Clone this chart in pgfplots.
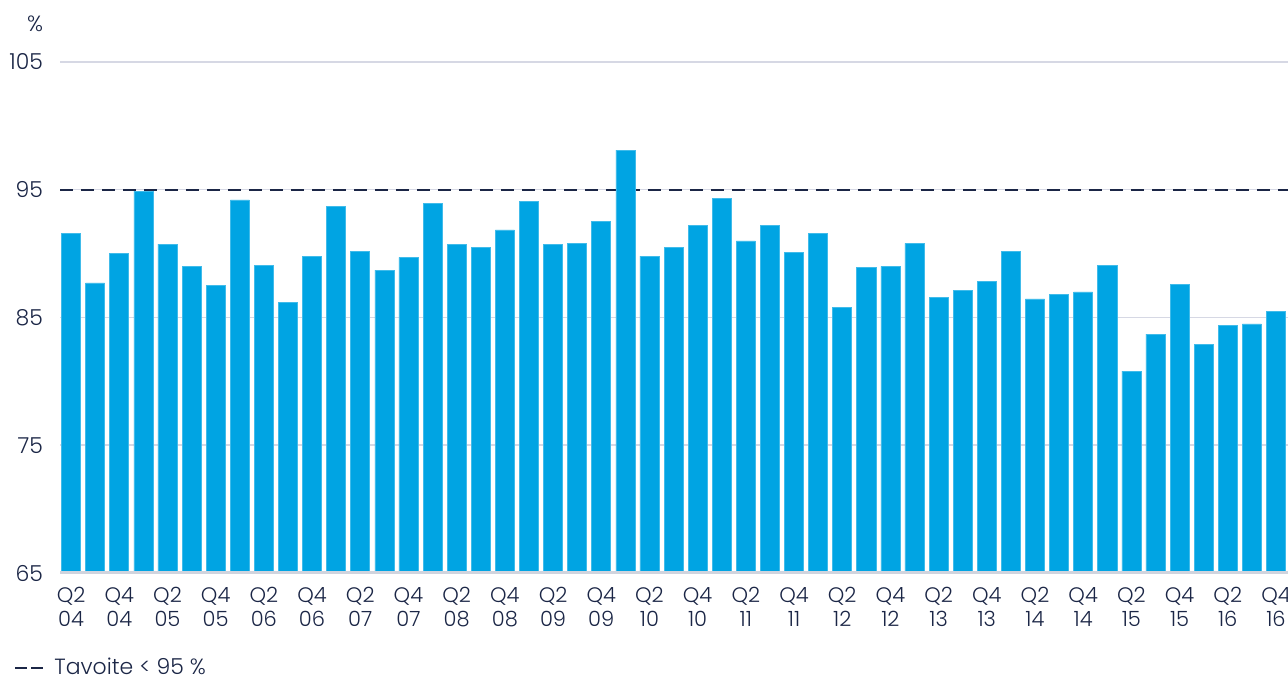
\documentclass[border=0pt]{standalone}
\usepackage{fontspec}
\setmainfont{Poppins}[UprightFont=* Light]
\usepackage{pgfplots}
\pgfplotsset{compat=1.18}
\definecolor{barc}{RGB}{0,164,227}
\definecolor{navyc}{RGB}{27,38,70}
\definecolor{gridc}{RGB}{214,216,228}
\definecolor{axisc}{RGB}{208,212,222}
\begin{document}
\begin{tikzpicture}
\begin{axis}[
  name=ax,
  scale only axis,
  width=614pt, height=255.5pt,
  xmin=-0.46, xmax=50.5,
  ymin=65, ymax=105,
  ytick={65,75,85,95,105},
  xtick={0,2,...,50},
  xticklabels={Q2\\04,Q4\\04,Q2\\05,Q4\\05,Q2\\06,Q4\\06,Q2\\07,Q4\\07,Q2\\08,Q4\\08,Q2\\09,Q4\\09,Q2\\10,Q4\\10,Q2\\11,Q4\\11,Q2\\12,Q4\\12,Q2\\13,Q4\\13,Q2\\14,Q4\\14,Q2\\15,Q4\\15,Q2\\16,Q4\\16},
  major tick length=0pt,
  axis line style={draw=none},
  ymajorgrids,
  grid style={gridc, line width=0.75pt},
  /pgf/number format/assume math mode=true,
  yticklabel style={font=\fontsize{11}{12}\selectfont, text=navyc, xshift=-5pt},
  xticklabel style={font=\fontsize{10.5}{12}\selectfont, text=navyc, align=center, yshift=-3.5pt},
  legend style={at={(rel axis cs:0,0)}, anchor=west, xshift=-23pt, yshift=-47.5pt,
    draw=none, fill=none, inner sep=0pt, font=\fontsize{11}{12}\selectfont, text=navyc},
  legend cell align=left,
  legend image code/.code={\draw[navyc, line width=1pt, dash pattern=on 6pt off 2pt] (0pt,0pt) -- (14pt,0pt); \path (17pt,0pt);},
  clip=false,
]
\addplot[navyc, line width=1pt, dash pattern=on 6.5pt off 4pt] coordinates {(-0.46,95) (50.5,95)};
\addlegendentry{Tavoite < 95 \%}
\addplot[ybar, bar width=0.79, fill=barc, draw=barc!75!white, line width=0.3pt, forget plot] coordinates {
(0,91.6) (1,87.7) (2,90.0) (3,94.9) (4,90.75) (5,89.0) (6,87.5) (7,94.2) (8,89.1) (9,86.2)
(10,89.8) (11,93.7) (12,90.2) (13,88.7) (14,89.7) (15,93.9) (16,90.75) (17,90.5) (18,91.85) (19,94.1)
(20,90.7) (21,90.8) (22,92.55) (23,98.1) (24,89.8) (25,90.5) (26,92.2) (27,94.35) (28,91.0) (29,92.2)
(30,90.1) (31,91.6) (32,85.8) (33,88.9) (34,89.0) (35,90.8) (36,86.6) (37,87.1) (38,87.8) (39,90.2)
(40,86.45) (41,86.8) (42,87.0) (43,89.1) (44,80.8) (45,83.7) (46,87.6) (47,82.9) (48,84.4) (49,84.5)
(50,85.5)};
\draw[axisc, line width=1.5pt] (rel axis cs:0,0) -- (rel axis cs:1,0);
\node[text=navyc, font=\fontsize{11}{12}\selectfont] at ([xshift=-12.5pt, yshift=19pt]rel axis cs:0,1) {\%};
\end{axis}
\pgfresetboundingbox
\path ([xshift=-30pt, yshift=-52pt]ax.south west) rectangle ([yshift=31pt]ax.north east);
\end{tikzpicture}
\end{document}
